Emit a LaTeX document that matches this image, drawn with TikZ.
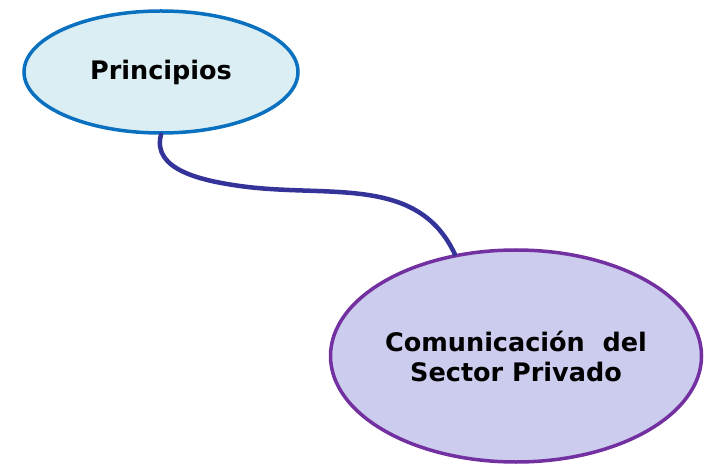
\documentclass[tikz,border=0pt]{standalone}
\usepackage{fontspec}
\setmainfont{DejaVu Sans}
\usepackage{tikz}
\usetikzlibrary{shapes.geometric}

\definecolor{prifill}{HTML}{DAEEF3}
\definecolor{pridraw}{HTML}{0A70C0}
\definecolor{comfill}{HTML}{CCCCEE}
\definecolor{comdraw}{HTML}{7330A0}
\definecolor{linkcol}{HTML}{33339A}

\begin{document}
\begin{tikzpicture}[x=1pt, y=1pt,
	bubble/.style = {ellipse, line width=3.5pt, inner sep=0pt, align=center,
		font=\fontsize{25.5}{30}\selectfont\bfseries},
	link/.style = {line width=4.5pt, linkcol, line cap=round}]
\useasboundingbox (0,0) rectangle (706,466);
\node[bubble, draw=pridraw, fill=prifill, minimum width=274pt, minimum height=122pt] (pri) at (161,394) {Principios};
\node[bubble, draw=comdraw, fill=comfill, minimum width=371pt, minimum height=212pt] (com) at (516,110) {Comunicación\ \ del\\Sector Privado};
\coordinate (bend) at (240,280);
\draw[link] (pri.south) to[out=-105, in=172] (bend) to[out=-8, in=115] (com.121);
\end{tikzpicture}
\end{document}
